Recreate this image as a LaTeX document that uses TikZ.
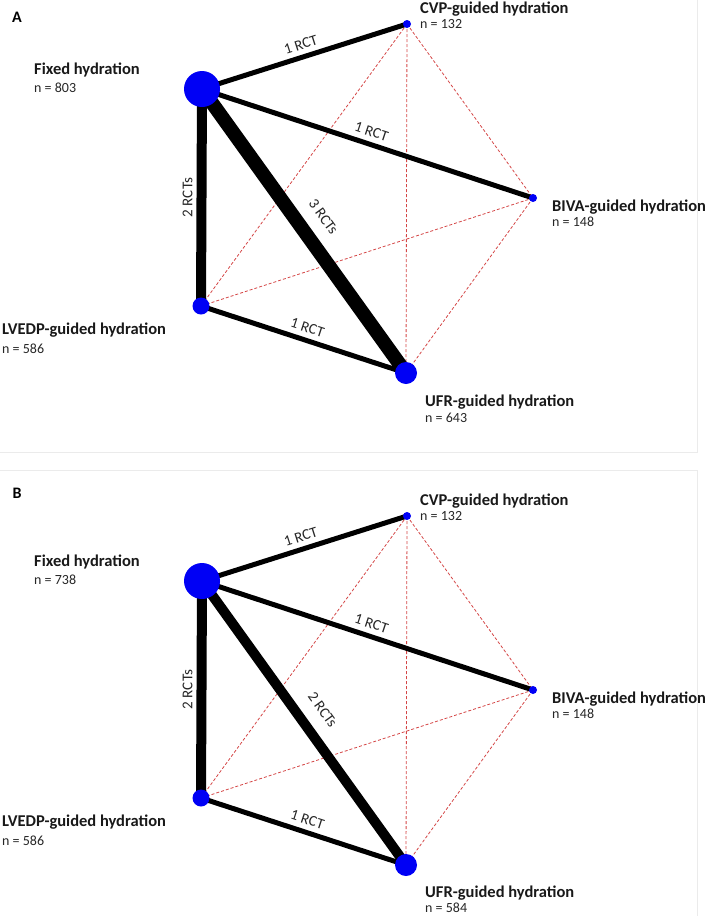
\documentclass[tikz,border=0pt]{standalone}
\usepackage{fontspec}
\setmainfont{Carlito}
\usetikzlibrary{backgrounds}

\definecolor{dashcol}{RGB}{212,70,70}
\definecolor{nodeblue}{RGB}{0,0,245}

\tikzstyle{vertex}=[circle,fill=nodeblue,inner sep=0pt]
\tikzstyle{edge} = [draw,line width=5pt,-]
\tikzstyle{indirect} = [draw,dashcol,line width=0.8pt,dash pattern=on 3pt off 2pt]
\tikzstyle{trtname}=[anchor=base west,inner sep=0pt,text=black!90,font=\fontsize{16.5}{18}\selectfont\bfseries]
\tikzstyle{trtsize}=[anchor=base west,inner sep=0pt,text=black!85,font=\fontsize{14}{16}\selectfont]
\tikzstyle{rct}=[sloped,midway,inner sep=0pt,text=black!85,font=\fontsize{15}{17}\selectfont]
\tikzstyle{letter}=[inner sep=0pt,font=\fontsize{16}{18}\selectfont\bfseries]
\tikzstyle{panel}=[draw=black!8,line width=1pt]

\begin{document}
\begin{tikzpicture}[x=1pt,y=-1pt]
	\useasboundingbox (0,0) rectangle (709,916);
	\node[letter] (labA) at (17,17) {A};
	\node[letter] (labB) at (17,493) {B};

	% panel A
	\node[vertex,minimum size=36pt] (fixA) at (202,89) {};
	\node[vertex,minimum size=8pt] (cvpA) at (407,24) {};
	\node[vertex,minimum size=8pt] (bivaA) at (533,198) {};
	\node[vertex,minimum size=17pt] (lvA) at (201,306) {};
	\node[vertex,minimum size=22pt] (ufrA) at (406,373) {};
	\node[trtname] (fixA-t) at (34,74) {Fixed hydration};
	\node[trtsize] (fixA-n) at (34,92.5) {n = 803};
	\node[trtname] (cvpA-t) at (420,13.5) {CVP-guided hydration};
	\node[trtsize] (cvpA-n) at (420,28.5) {n = 132};
	\node[trtname] (bivaA-t) at (552,211.5) {BIVA-guided hydration};
	\node[trtsize] (bivaA-n) at (552,226.5) {n = 148};
	\node[trtname] (lvA-t) at (2,334.5) {LVEDP-guided hydration};
	\node[trtsize] (lvA-n) at (2,353.5) {n = 586};
	\node[trtname] (ufrA-t) at (425,406.5) {UFR-guided hydration};
	\node[trtsize] (ufrA-n) at (425,422.5) {n = 643};
	\begin{scope}[on background layer]
		\draw[panel] (-2,-2) rectangle (697,452);
		% no direct trials
		\foreach \source/ \dest in {cvpA/lvA, cvpA/ufrA, cvpA/bivaA, bivaA/lvA, bivaA/ufrA}
			\path[indirect] (\source.center) -- (\dest.center);
		% direct trials
		\path[edge] (fixA.center) -- node[rct,above=5pt] {1 RCT} (cvpA.center);
		\path[edge] (fixA.center) -- node[rct,above=5pt] {1 RCT} (bivaA.center);
		\path[edge,line width=10pt] (lvA.center) -- node[rct,above=4pt] {2 RCTs} (fixA.center);
		\path[edge,line width=14pt] (fixA.center) -- node[rct,above=12pt] {3 RCTs} (ufrA.center);
		\path[edge] (lvA.center) -- node[rct,above=5pt] {1 RCT} (ufrA.center);
	\end{scope}

	% panel B
	\begin{scope}[yshift=-492pt]
		\node[vertex,minimum size=36pt] (fixB) at (202,89) {};
		\node[vertex,minimum size=8pt] (cvpB) at (407,24) {};
		\node[vertex,minimum size=8pt] (bivaB) at (533,198) {};
		\node[vertex,minimum size=17pt] (lvB) at (201,306) {};
		\node[vertex,minimum size=22pt] (ufrB) at (406,373) {};
		\node[trtname] (fixB-t) at (34,74) {Fixed hydration};
		\node[trtsize] (fixB-n) at (34,92.5) {n = 738};
		\node[trtname] (cvpB-t) at (420,13.5) {CVP-guided hydration};
		\node[trtsize] (cvpB-n) at (420,28.5) {n = 132};
		\node[trtname] (bivaB-t) at (552,211.5) {BIVA-guided hydration};
		\node[trtsize] (bivaB-n) at (552,226.5) {n = 148};
		\node[trtname] (lvB-t) at (2,334.5) {LVEDP-guided hydration};
		\node[trtsize] (lvB-n) at (2,353.5) {n = 586};
		\node[trtname] (ufrB-t) at (425,405.5) {UFR-guided hydration};
		\node[trtsize] (ufrB-n) at (425,420.5) {n = 584};
		\begin{scope}[on background layer]
			\draw[panel] (-2,-22) rectangle (697,426);
			% no direct trials
			\foreach \source/ \dest in {cvpB/lvB, cvpB/ufrB, cvpB/bivaB, bivaB/lvB, bivaB/ufrB}
				\path[indirect] (\source.center) -- (\dest.center);
			% direct trials
			\path[edge] (fixB.center) -- node[rct,above=5pt] {1 RCT} (cvpB.center);
			\path[edge] (fixB.center) -- node[rct,above=5pt] {1 RCT} (bivaB.center);
			\path[edge,line width=10pt] (lvB.center) -- node[rct,above=4pt] {2 RCTs} (fixB.center);
			\path[edge,line width=10pt] (fixB.center) -- node[rct,above=13pt] {2 RCTs} (ufrB.center);
			\path[edge] (lvB.center) -- node[rct,above=5pt] {1 RCT} (ufrB.center);
		\end{scope}
	\end{scope}
\end{tikzpicture}
\end{document}
